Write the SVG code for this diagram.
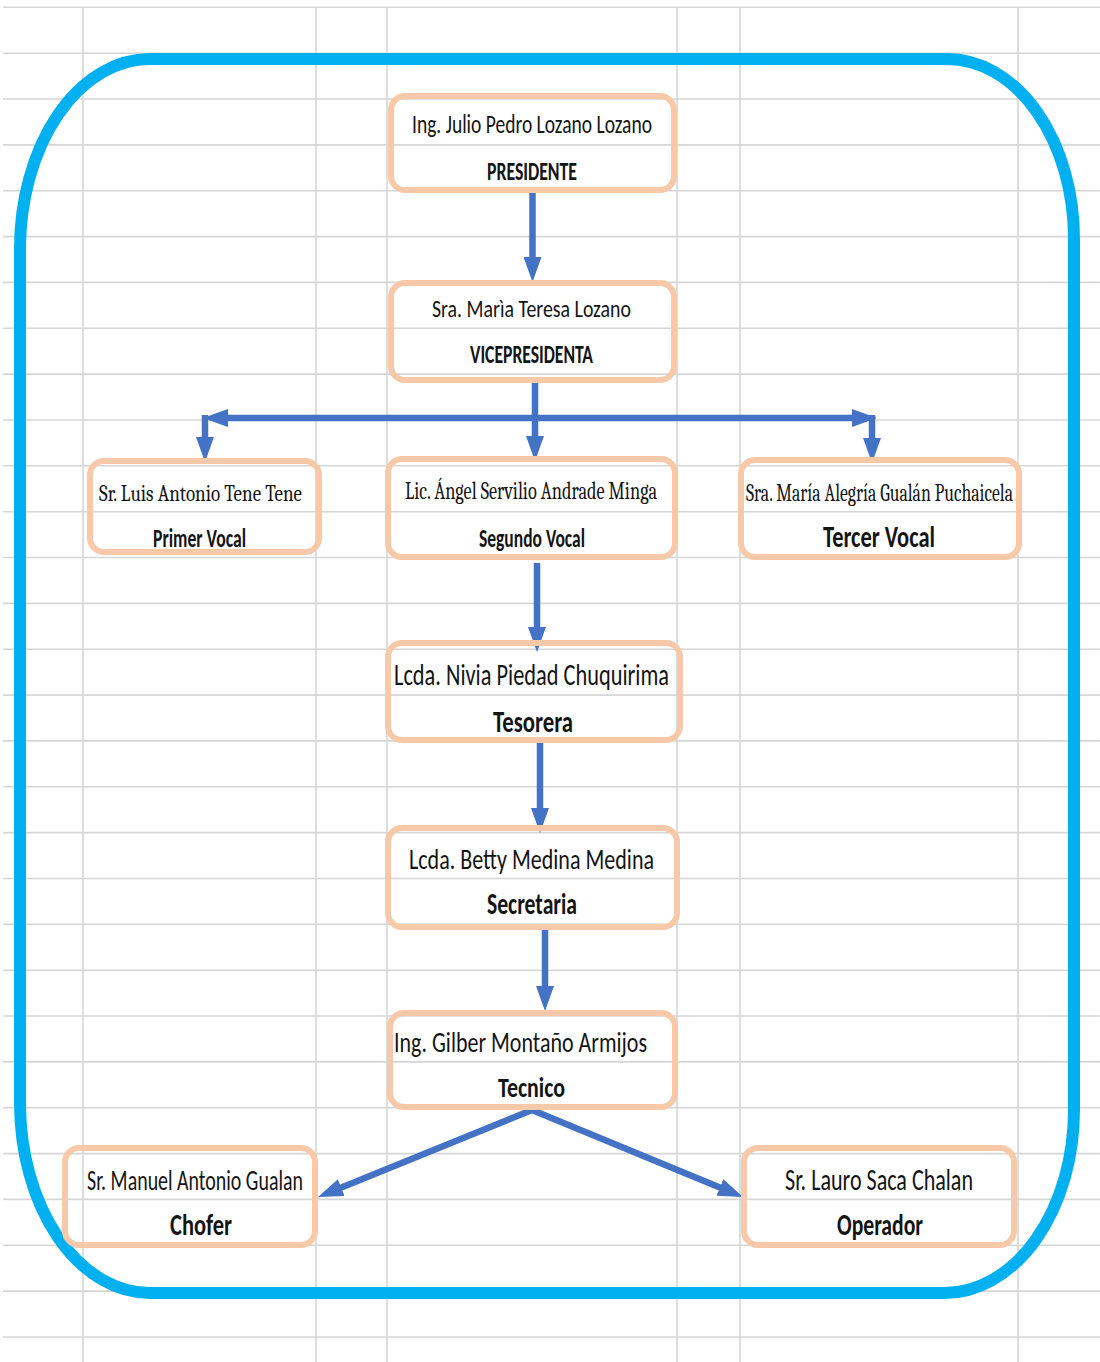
<svg xmlns="http://www.w3.org/2000/svg" width="1100" height="1362" viewBox="0 0 1100 1362">
<style>
.grid line{stroke:#D6D6D6;stroke-width:1.6}
.node rect{fill:none;stroke:#F7C9A9;stroke-width:6}
.t{font-family:Carlito,"Liberation Sans",Arial,sans-serif;fill:#141414}
.b{font-weight:bold}
.s{font-family:Caladea,"Liberation Serif","DejaVu Serif",serif;fill:#141414}
.conn line{stroke:#4472C4;stroke-width:6.5;marker-end:url(#ah)}
</style>
<defs>
<marker id="ah" markerUnits="userSpaceOnUse" viewBox="0 0 25 18" markerWidth="25" markerHeight="18" refX="15" refY="9" orient="auto">
<path d="M0,0 L25,9 L0,18 Z" fill="#4472C4"/>
</marker>
</defs>
<rect x="0" y="0" width="1100" height="1362" fill="#FFFFFF"/>
<g class="grid">
<line x1="3" y1="7.3" x2="1100" y2="7.3"/><line x1="3" y1="53.2" x2="1100" y2="53.2"/><line x1="3" y1="99" x2="1100" y2="99"/><line x1="3" y1="144.9" x2="1100" y2="144.9"/><line x1="3" y1="190.7" x2="1100" y2="190.7"/><line x1="3" y1="236.6" x2="1100" y2="236.6"/><line x1="3" y1="282.4" x2="1100" y2="282.4"/><line x1="3" y1="328.3" x2="1100" y2="328.3"/><line x1="3" y1="374.1" x2="1100" y2="374.1"/><line x1="3" y1="420" x2="1100" y2="420"/><line x1="3" y1="465.8" x2="1100" y2="465.8"/><line x1="3" y1="511.7" x2="1100" y2="511.7"/><line x1="3" y1="557.5" x2="1100" y2="557.5"/><line x1="3" y1="603.4" x2="1100" y2="603.4"/><line x1="3" y1="649.2" x2="1100" y2="649.2"/><line x1="3" y1="695.1" x2="1100" y2="695.1"/><line x1="3" y1="740.9" x2="1100" y2="740.9"/><line x1="3" y1="786.8" x2="1100" y2="786.8"/><line x1="3" y1="832.6" x2="1100" y2="832.6"/><line x1="3" y1="878.5" x2="1100" y2="878.5"/><line x1="3" y1="924.3" x2="1100" y2="924.3"/><line x1="3" y1="970.2" x2="1100" y2="970.2"/><line x1="3" y1="1016" x2="1100" y2="1016"/><line x1="3" y1="1061.9" x2="1100" y2="1061.9"/><line x1="3" y1="1107.7" x2="1100" y2="1107.7"/><line x1="3" y1="1153.6" x2="1100" y2="1153.6"/><line x1="3" y1="1199.4" x2="1100" y2="1199.4"/><line x1="3" y1="1245.3" x2="1100" y2="1245.3"/><line x1="3" y1="1291.1" x2="1100" y2="1291.1"/><line x1="3" y1="1337" x2="1100" y2="1337"/>
<line x1="83" y1="7" x2="83" y2="1362"/><line x1="316" y1="7" x2="316" y2="1362"/><line x1="387" y1="7" x2="387" y2="1362"/><line x1="677" y1="7" x2="677" y2="1362"/><line x1="740" y1="7" x2="740" y2="1362"/><line x1="1018" y1="7" x2="1018" y2="1362"/>
</g>
<path id="frame" d="M150,59 H947 A127,180 0 0 1 1074,239 V1110 A130,183 0 0 1 944,1293 H150 A130,190 0 0 1 20,1103 V249 A130,190 0 0 1 150,59 Z" fill="none" stroke="#00B0F0" stroke-width="12"/>
<g class="conn" id="connectors">
<line x1="532.5" y1="193" x2="532.5" y2="272"/>
<line x1="535" y1="383" x2="535" y2="451"/>
<line x1="535" y1="418" x2="213" y2="418"/>
<line x1="535" y1="418" x2="867" y2="418"/>
<line x1="205" y1="415" x2="205" y2="452"/>
<line x1="872" y1="415" x2="872" y2="453"/>
<line x1="537" y1="563" x2="537" y2="642"/>
<line x1="540" y1="743" x2="540" y2="823"/>
<line x1="545" y1="930" x2="545" y2="1001"/>
<line x1="532" y1="1110" x2="327.3" y2="1193.2"/>
<line x1="532" y1="1110" x2="733.8" y2="1193.2"/>
</g>
<g class="node" id="presidente">
<rect x="391" y="96" width="283" height="94" rx="14"/>
<text class="t" x="412" y="133" font-size="26.5" textLength="240" lengthAdjust="spacingAndGlyphs">Ing. Julio Pedro Lozano Lozano</text>
<text class="t b" x="487" y="180" font-size="25.5" textLength="90" lengthAdjust="spacingAndGlyphs">PRESIDENTE</text>
</g>
<g class="node" id="vicepresidenta">
<rect x="391" y="283" width="283" height="97" rx="14"/>
<text class="t" x="432" y="317" font-size="24.5" textLength="199" lengthAdjust="spacingAndGlyphs">Sra. Marìa Teresa Lozano</text>
<text class="t b" x="470" y="363" font-size="25.5" textLength="123" lengthAdjust="spacingAndGlyphs">VICEPRESIDENTA</text>
</g>
<g class="node" id="primer-vocal">
<rect x="90" y="461" width="229" height="91" rx="14"/>
<text class="s" x="99" y="500.5" font-size="23.5" textLength="203" lengthAdjust="spacingAndGlyphs">Sr. Luis Antonio Tene Tene</text>
<text class="t b" x="153" y="546.5" font-size="26.5" textLength="93" lengthAdjust="spacingAndGlyphs">Primer Vocal</text>
</g>
<g class="node" id="segundo-vocal">
<rect x="388" y="459" width="287" height="98" rx="14"/>
<text class="s" x="405" y="499" font-size="25.5" textLength="252" lengthAdjust="spacingAndGlyphs">Lic. Ángel Servilio Andrade Minga</text>
<text class="t b" x="479" y="546.5" font-size="25.5" textLength="106" lengthAdjust="spacingAndGlyphs">Segundo Vocal</text>
</g>
<g class="node" id="tercer-vocal">
<rect x="741" y="460" width="278" height="97" rx="14"/>
<text class="s" x="746" y="501" font-size="24.5" textLength="267" lengthAdjust="spacingAndGlyphs">Sra. María Alegría Gualán Puchaicela</text>
<text class="t b" x="823" y="546.5" font-size="31" textLength="112" lengthAdjust="spacingAndGlyphs">Tercer Vocal</text>
</g>
<g class="node" id="tesorera">
<rect x="388" y="643" width="292" height="97" rx="14"/>
<text class="t" x="394" y="685" font-size="30.5" textLength="275" lengthAdjust="spacingAndGlyphs">Lcda. Nivia Piedad Chuquirima</text>
<text class="t b" x="493" y="731.5" font-size="31" textLength="80" lengthAdjust="spacingAndGlyphs">Tesorera</text>
</g>
<g class="node" id="secretaria">
<rect x="388" y="828" width="289" height="99" rx="14"/>
<text class="t" x="409" y="868.5" font-size="28.5" textLength="245" lengthAdjust="spacingAndGlyphs">Lcda. Betty Medina Medina</text>
<text class="t b" x="487" y="913.5" font-size="31" textLength="90" lengthAdjust="spacingAndGlyphs">Secretaria</text>
</g>
<g class="node" id="tecnico">
<rect x="390" y="1013" width="285" height="94" rx="14"/>
<text class="t" x="394" y="1051.5" font-size="28.5" textLength="253" lengthAdjust="spacingAndGlyphs">Ing. Gilber Montaño Armijos</text>
<text class="t b" x="498" y="1096.5" font-size="28.5" textLength="67" lengthAdjust="spacingAndGlyphs">Tecnico</text>
</g>
<g class="node" id="chofer">
<rect x="65" y="1148" width="250" height="97" rx="14"/>
<text class="t" x="87" y="1190" font-size="28.5" textLength="216" lengthAdjust="spacingAndGlyphs">Sr. Manuel Antonio Gualan</text>
<text class="t b" x="170" y="1235" font-size="31" textLength="62" lengthAdjust="spacingAndGlyphs">Chofer</text>
</g>
<g class="node" id="operador">
<rect x="744" y="1148" width="270" height="97" rx="14"/>
<text class="t" x="785" y="1190" font-size="30" textLength="188" lengthAdjust="spacingAndGlyphs">Sr. Lauro Saca Chalan</text>
<text class="t b" x="837" y="1235" font-size="31" textLength="86" lengthAdjust="spacingAndGlyphs">Operador</text>
</g>
</svg>
